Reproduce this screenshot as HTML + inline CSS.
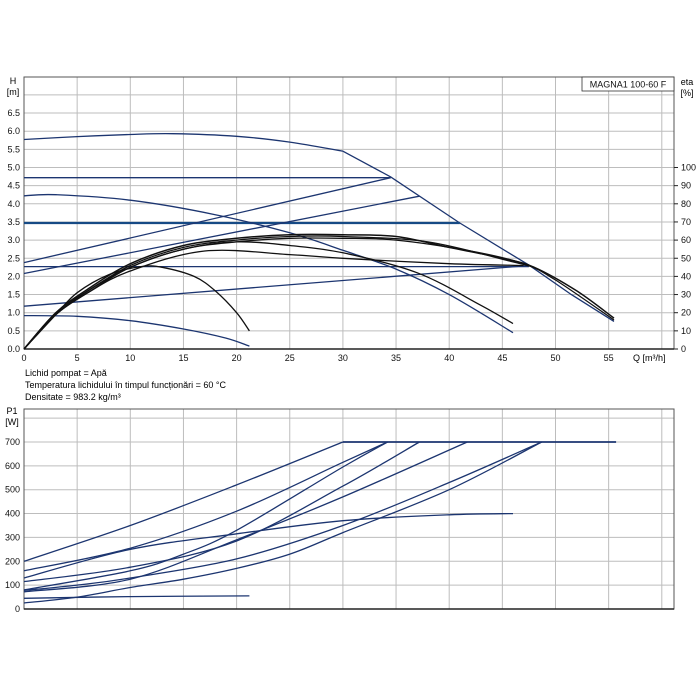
<!DOCTYPE html>
<html><head><meta charset="utf-8">
<style>
html,body{margin:0;padding:0;background:#fff;}
svg{display:block;font-family:"Liberation Sans",Arial,sans-serif;}
</style></head>
<body>
<svg id="chart" width="700" height="700" viewBox="0 0 700 700" xmlns="http://www.w3.org/2000/svg">
<rect x="0" y="0" width="700" height="700" fill="#fff"/>
<g id="grid"></g>
<g id="marks"></g>
<g id="labels"></g>
<g>
<rect x="582" y="77" width="92" height="14" fill="#fff" stroke="#333" stroke-width="0.8"/>
<text x="628" y="87.5" font-size="9" text-anchor="middle" fill="#111">MAGNA1 100-60 F</text>
</g>
<text x="13" y="84" font-size="9" text-anchor="middle">H</text>
<text x="13" y="95" font-size="9" text-anchor="middle">[m]</text>
<text x="687" y="85" font-size="9" text-anchor="middle">eta</text>
<text x="687" y="96" font-size="9" text-anchor="middle">[%]</text>
<text x="633" y="361" font-size="9">Q [m³/h]</text>
<text x="12" y="414" font-size="9" text-anchor="middle">P1</text>
<text x="12" y="425" font-size="9" text-anchor="middle">[W]</text>
<text x="25" y="376" font-size="9">Lichid pompat = Apă</text>
<text x="25" y="388" font-size="9">Temperatura lichidului în timpul funcționări = 60 °C</text>
<text x="25" y="400" font-size="9">Densitate = 983.2 kg/m³</text>
</svg>
<script>
// ---- data ----
const qTicks = [0,5,10,15,20,25,30,35,40,45,50,55];
const hTicks = [0.0,0.5,1.0,1.5,2.0,2.5,3.0,3.5,4.0,4.5,5.0,5.5,6.0,6.5];
const etaTicks = [0,10,20,30,40,50,60,70,80,90,100];
const pTicks = [0,100,200,300,400,500,600,700];

// H curves (Q, H) pairs
const hMaxQ = [0,5,10,14,20,25,30];
const hMaxH = [5.77,5.85,5.91,5.93,5.86,5.7,5.45];
const hMaxTailQ = [30,34.5,41,47.5,51.5,55.5];
const hMaxTailH = [5.45,4.74,3.47,2.31,1.5,0.76];
const hConstA_Q = [0,34.5]; const hConstA_H = [4.72,4.72];
const hConstB_Q = [0,41];   const hConstB_H = [3.47,3.47];
const hConstC_Q = [0,47.5]; const hConstC_H = [2.27,2.27];
const hPropA_Q = [0,34.5];  const hPropA_H = [2.38,4.72];
const hPropB_Q = [0,37.2];  const hPropB_H = [2.08,4.21];
const hPropC_Q = [0,47.5];  const hPropC_H = [1.18,2.3];
const hMidQ = [0,3,10,18,25,30,35,40,46];
const hMidH = [4.22,4.25,4.1,3.7,3.2,2.72,2.2,1.5,0.45];
const hLowQ = [0,5,10,15,19,21.2];
const hLowH = [0.92,0.9,0.78,0.55,0.3,0.08];

// efficiency curves, eta in %
const eta1Q = [0,3,5,8,11,13,16,18,20,21.2];
const eta1V = [0,19,31,41,45.4,45,40,32,20,10];
const eta2Q = [0,3,6,10,17,25,30,40,47];
const eta2V = [0,19,31,43,54,52,50,47,46];
const eta3Q = [0,3,6,10,15,20,25,30,37,43,46];
const eta3V = [0,19,32,45,55,59,57,53,42,24,14];
const eta4Q = [0,3,6,10,15,20,25,30,35,40,45,48,52,55.5];
const eta4V = [0,20,33,47,57,61,63,63,62,56,50,45,32,17];
const eta5Q = [0,3,6,10,15,20,25,30,38,46,48];
const eta5V = [0,20,32,46,56,60,62,62,59,48,45];
const eta6Q = [0,3,6,10,15,20,25,30,35,42,47,50,55.5];
const eta6V = [0,19,31,45,55,59,61,61,60,54,47,38,16];

// power curves (Q, P1 W)
const pAQ = [0,10,20,30];            const pAV = [200,350,520,700];
const pBQ = [0,10,20,30,34.2];       const pBV = [160,255,410,615,700];
const pCQ = [0,10,15,20,30,34.2];    const pCV = [80,160,230,330,595,700];
const pDQ = [0,10,20,30,37.2];       const pDV = [115,175,285,515,700];
const pFlatQ = [0,10,20,30,40,46];   const pFlatV = [130,250,315,370,395,400];
const pEQ = [0,10,20,30,41.7];       const pEV = [72,125,290,470,700];
const pFQ = [0,5,10,20,30,40,48.7];  const pFV = [78,100,130,210,350,530,700];
const pGQ = [0,5,10,15,20,25,30,40,48.7]; const pGV = [25,50,90,125,170,230,320,500,700];
const pLowQ = [0,10,21.2];           const pLowV = [45,52,55];
const pMaxQ = [30,55.7];             const pMaxV = [700,700];

// ---- axes ----
const X0=24, XR=674, QPX=10.63;
const TB=349, TT=77, HPX=36.3;
const BB=609, BT=409, PPX=0.2386;
const xQ = q => X0 + q*QPX;
const yH = h => TB - h*HPX;
const yE = e => TB - e*HPX/20;
const yP = p => BB - p*PPX;

const NS="http://www.w3.org/2000/svg";
function mk(tag, parent){const e=document.createElementNS(NS,tag);parent.appendChild(e);return e;}
const grid=document.getElementById('grid'), marks=document.getElementById('marks'), labels=document.getElementById('labels');

function smooth(pts){
  if(pts.length<3) return 'M'+pts.map(p=>p[0].toFixed(1)+','+p[1].toFixed(1)).join(' L');
  let d='M'+pts[0][0].toFixed(1)+','+pts[0][1].toFixed(1);
  for(let i=0;i<pts.length-1;i++){
    const p0=pts[i-1]||pts[i],p1=pts[i],p2=pts[i+1],p3=pts[i+2]||p2;
    const c1=[p1[0]+(p2[0]-p0[0])/6,p1[1]+(p2[1]-p0[1])/6];
    const c2=[p2[0]-(p3[0]-p1[0])/6,p2[1]-(p3[1]-p1[1])/6];
    d+=' C'+c1[0].toFixed(1)+','+c1[1].toFixed(1)+' '+c2[0].toFixed(1)+','+c2[1].toFixed(1)+' '+p2[0].toFixed(1)+','+p2[1].toFixed(1);
  }
  return d;
}
function poly(pts){return 'M'+pts.map(p=>p[0].toFixed(1)+','+p[1].toFixed(1)).join(' L');}

// grids
function panel(top,bottom,name,hlines){
  for(let q=5;q<=60;q+=5){
    const l=mk('line',grid);
    
    
    l.setAttribute('x1',xQ(q));l.setAttribute('x2',xQ(q));l.setAttribute('y1',top);l.setAttribute('y2',bottom);
    l.setAttribute('stroke','#bdbdbd');l.setAttribute('stroke-width','1');
  }
  hlines.forEach(y=>{
    const l=mk('line',grid);
    
    
    l.setAttribute('x1',X0);l.setAttribute('x2',XR);l.setAttribute('y1',y);l.setAttribute('y2',y);
    l.setAttribute('stroke','#bdbdbd');l.setAttribute('stroke-width','1');
  });
  const r=mk('rect',grid);
  
  
  r.setAttribute('x',X0);r.setAttribute('y',top);r.setAttribute('width',XR-X0);r.setAttribute('height',bottom-top);
  r.setAttribute('fill','none');r.setAttribute('stroke','#555');r.setAttribute('stroke-width','1');
  const ax=mk('line',grid);
  
  
  ax.setAttribute('x1',X0);ax.setAttribute('x2',XR);ax.setAttribute('y1',bottom);ax.setAttribute('y2',bottom);
  ax.setAttribute('stroke','#222');ax.setAttribute('stroke-width','1.5');
}
const topH=[];for(let h=0.5;h<=7.01;h+=0.5)topH.push(yH(h));
panel(TT,TB,'head-chart',topH);
const botH=[];for(let p=100;p<=800;p+=100)botH.push(yP(p));
panel(BT,BB,'power-chart',botH);

function txt(x,y,s,anchor,name){
  const t=mk('text',labels);
  
  
  t.setAttribute('x',x);t.setAttribute('y',y);t.setAttribute('font-size','9');
  t.setAttribute('text-anchor',anchor);t.setAttribute('fill','#111');
  t.textContent=s;
}
qTicks.forEach(q=>txt(xQ(q),361,String(q),'middle','q-tick-label'));
hTicks.forEach(h=>txt(20,yH(h)+3,h.toFixed(1),'end','h-tick-label'));
etaTicks.forEach(e=>{
  txt(681,yE(e)+3,String(e),'start','eta-tick-label');
  const l=mk('line',labels);
  
  
  l.setAttribute('x1',XR);l.setAttribute('x2',XR+4);l.setAttribute('y1',yE(e));l.setAttribute('y2',yE(e));
  l.setAttribute('stroke','#222');
});
pTicks.forEach(p=>txt(20,yP(p)+3,String(p),'end','p1-tick-label'));

function curve(qs,vs,yf,color,w,name,straight){
  const pts=qs.map((q,i)=>[xQ(q),yf(vs[i])]);
  const p=mk('path',marks);
  
  
  p.setAttribute('d',straight?poly(pts):smooth(pts));
  p.setAttribute('fill','none');p.setAttribute('stroke',color);p.setAttribute('stroke-width',w);
}
const BL='#1c3570', BK='#111';
curve(hMaxQ,hMaxH,yH,BL,1.3,'max-head-curve');
curve(hMaxTailQ,hMaxTailH,yH,BL,1.3,'max-head-curve-tail',true);
curve(hConstA_Q,hConstA_H,yH,BL,1.3,'const-pressure-high');
curve(hConstB_Q,hConstB_H,yH,'#164a85',2.2,'const-pressure-mid');
curve(hConstC_Q,hConstC_H,yH,BL,1.3,'const-pressure-low');
curve(hPropA_Q,hPropA_H,yH,BL,1.3,'prop-pressure-high');
curve(hPropB_Q,hPropB_H,yH,BL,1.3,'prop-pressure-mid');
curve(hPropC_Q,hPropC_H,yH,BL,1.3,'prop-pressure-low');
curve(hMidQ,hMidH,yH,BL,1.3,'mid-speed-head-curve');
curve(hLowQ,hLowH,yH,BL,1.3,'min-speed-head-curve');
curve(eta1Q,eta1V,yE,BK,1.3,'eta-curve-1');
curve(eta2Q,eta2V,yE,BK,1.3,'eta-curve-2');
curve(eta3Q,eta3V,yE,BK,1.3,'eta-curve-3');
curve(eta4Q,eta4V,yE,BK,1.5,'eta-curve-4');
curve(eta5Q,eta5V,yE,BK,1.3,'eta-curve-5');
curve(eta6Q,eta6V,yE,BK,1.3,'eta-curve-6');
curve(pAQ,pAV,yP,BL,1.3,'power-curve-a');
curve(pBQ,pBV,yP,BL,1.3,'power-curve-b');
curve(pCQ,pCV,yP,BL,1.3,'power-curve-c');
curve(pDQ,pDV,yP,BL,1.3,'power-curve-d');
curve(pFlatQ,pFlatV,yP,BL,1.3,'power-curve-flat');
curve(pEQ,pEV,yP,BL,1.3,'power-curve-e');
curve(pFQ,pFV,yP,BL,1.3,'power-curve-f');
curve(pGQ,pGV,yP,BL,1.3,'power-curve-g');
curve(pLowQ,pLowV,yP,BL,1.3,'power-curve-min');
curve(pMaxQ,pMaxV,yP,BL,1.8,'power-limit-line');
</script>
</body></html>
